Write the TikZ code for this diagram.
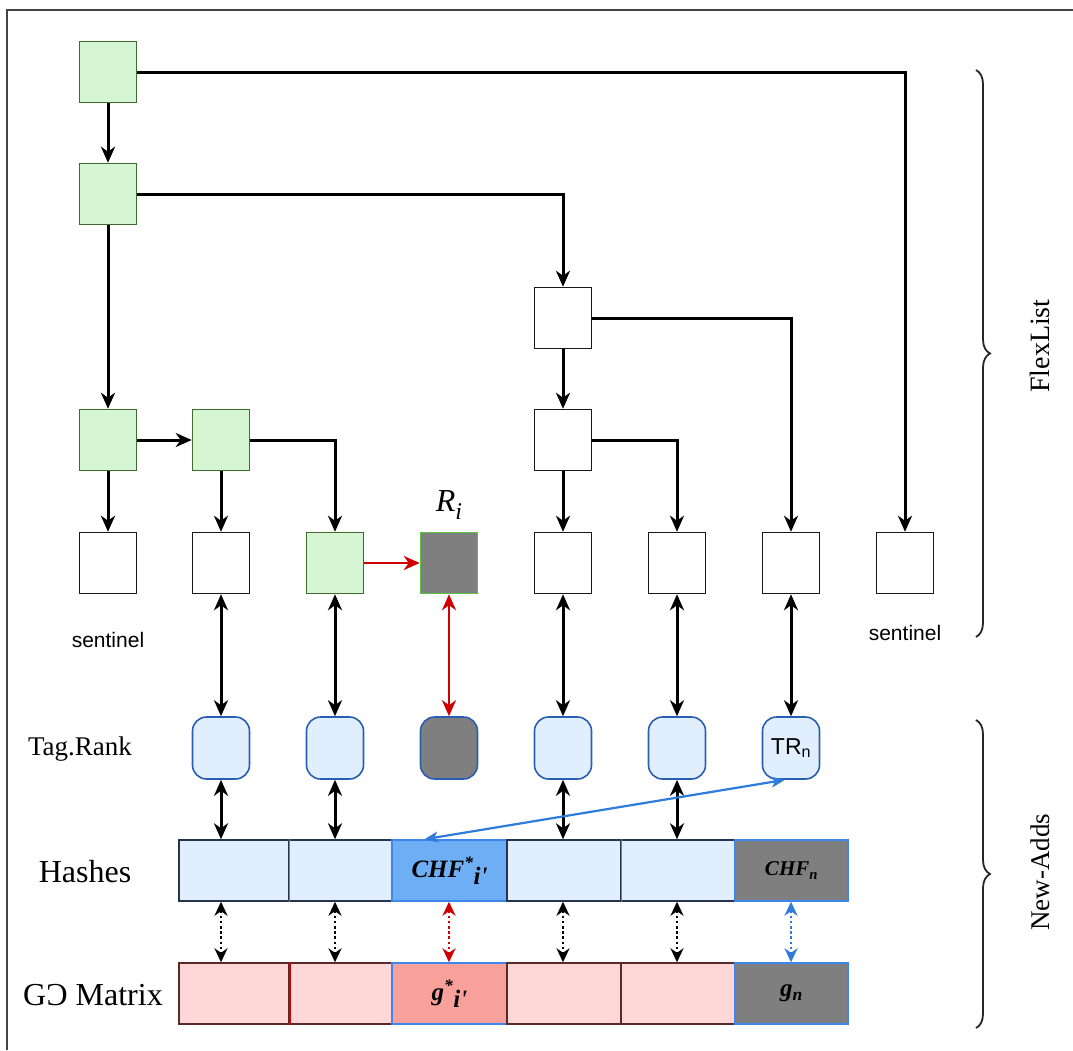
\documentclass[tikz,border=0pt]{standalone}
\usepackage{fontspec}
\setmainfont{Liberation Serif}
\newfontfamily\arialfont{Liberation Sans}
\usetikzlibrary{arrows.meta,decorations.pathreplacing,calc}

\definecolor{greenfill}{HTML}{D6F6D3}
\definecolor{greenline}{HTML}{3F6A32}
\definecolor{brightgreen}{HTML}{5CC43A}
\definecolor{darkbox}{HTML}{7F7F7F}
\definecolor{tagfill}{HTML}{E1EEFD}
\definecolor{tagline}{HTML}{2A5FB0}
\definecolor{hashline}{HTML}{26344E}
\definecolor{cellblue}{HTML}{3D86EE}
\definecolor{hashsel}{HTML}{6EAEF5}
\definecolor{pinkfill}{HTML}{FFD7D6}
\definecolor{pinkline}{HTML}{5A2A2A}
\definecolor{salmon}{HTML}{F8A19B}
\definecolor{arrred}{HTML}{D00000}
\definecolor{arrblue}{HTML}{2F7BDB}
\definecolor{framegray}{HTML}{444444}

\tikzset{
  bigtip/.tip={Stealth[length=16pt,width=14pt,inset=5pt]},
  smalltip/.tip={Stealth[length=14pt,width=13pt,inset=4.5pt]},
  bluetip/.tip={Stealth[length=14pt,width=11pt,inset=4pt]},
  listbox/.style={draw=greenline, line width=1.5pt, minimum width=57pt, minimum height=61pt, inner sep=0pt},
  greenbox/.style={listbox, fill=greenfill},
  whitebox/.style={listbox, draw=black!90, fill=white},
  tagbox/.style={draw=tagline, line width=1.6pt, fill=tagfill, rounded corners=14pt,
                 minimum width=57pt, minimum height=62pt, inner sep=0pt},
  cell/.style={draw=hashline, line width=1.4pt, minimum height=61pt, inner sep=0pt},
  arr/.style={-bigtip, line width=3pt, black},
  darr/.style={bigtip-bigtip, line width=3pt, black},
  dotarr/.style={smalltip-smalltip, line width=2.8pt, dash pattern=on 2.6pt off 2.6pt},
  lbl/.style={font=\fontsize{32}{34}\selectfont, inner sep=0pt},
  cellfont/.style={font=\fontsize{25}{27}\selectfont\bfseries\itshape, inner sep=0pt},
  bracelbl/.style={rotate=90, inner sep=0pt},
  brc/.style={decorate, decoration={brace, amplitude=14pt, aspect=0.5}, line width=1.8pt, black!85},
}

\begin{document}
\begin{tikzpicture}[x=1pt, y=-1pt]
\useasboundingbox (0,0) rectangle (1073,1050);

% outer frame (top and left edges)
\draw[framegray, line width=2.2pt] (1073,10) -- (7,10) -- (7,1050);

% ---- FlexList nodes ----
\node[greenbox] (t1) at (108,72) {};
\node[greenbox] (t2) at (108,194) {};
\node[whitebox] (m1) at (563,318) {};
\node[greenbox] (l0) at (108,440) {};
\node[greenbox] (l1) at (221,440) {};
\node[whitebox] (l4) at (563,440) {};

\node[whitebox] (b0) at (108,563) {};
\node[whitebox] (b1) at (221,563) {};
\node[greenbox] (b2) at (335,563) {};
\node[listbox, draw=brightgreen, fill=darkbox] (b3) at (449,563) {};
\node[whitebox] (b4) at (563,563) {};
\node[whitebox] (b5) at (677,563) {};
\node[whitebox] (b6) at (791,563) {};
\node[whitebox] (b7) at (905,563) {};

\node[inner sep=0pt, font=\fontsize{32}{34}\selectfont\itshape] (ri) at (449,505)
  {R\raisebox{-0.25em}{\fontsize{24}{26}\selectfont i}};

\node[inner sep=0pt, font=\arialfont\fontsize{21}{23}\selectfont] (s0) at (108,640) {sentinel};
\node[inner sep=0pt, font=\arialfont\fontsize{21}{23}\selectfont] (s7) at (905,633) {sentinel};

% FlexList links
\draw[arr] (t1.south) -- (t2.north);
\draw[arr] (t1.east) -| (b7.north);
\draw[arr] (t2.south) -- (l0.north);
\draw[arr] (t2.east) -| (m1.north);
\draw[arr] (m1.south) -- (l4.north);
\draw[arr] (m1.east) -| (b6.north);
\draw[arr] (l4.south) -- (b4.north);
\draw[arr] (l4.east) -| (b5.north);
\draw[arr] (l0.south) -- (b0.north);
\draw[arr] (l0.east) -- (l1.west);
\draw[arr] (l1.south) -- (b1.north);
\draw[arr] (l1.east) -| (b2.north);
\draw[-bigtip, line width=2.8pt, arrred] (b2.east) -- (b3.west);

% ---- Tag.Rank row ----
\node[lbl, font=\fontsize{27}{29}\selectfont] (taglbl) at (80,749) {Tag.Rank};
\node[tagbox] (r1) at (221,748) {};
\node[tagbox] (r2) at (335,748) {};
\node[tagbox, fill=darkbox] (r3) at (449,748) {};
\node[tagbox] (r4) at (563,748) {};
\node[tagbox] (r5) at (677,748) {};
\node[tagbox, font=\arialfont\fontsize{23}{25}\selectfont] (r6) at (791,748) {TR\textsubscript{n}};

\draw[darr] (b1.south) -- (r1.north);
\draw[darr] (b2.south) -- (r2.north);
\draw[darr, arrred, line width=2.8pt] (b3.south) -- (r3.north);
\draw[darr] (b4.south) -- (r4.north);
\draw[darr] (b5.south) -- (r5.north);
\draw[darr] (b6.south) -- (r6.north);

% ---- Hashes row ----
\node[lbl] (hlbl) at (85,872) {Hashes};
\node[cell, fill=tagfill, minimum width=110pt] (h1) at (234,870.5) {};
\node[cell, fill=tagfill, minimum width=103pt] (h2) at (340.5,870.5) {};
\node[cell, fill=hashsel, draw=cellblue, minimum width=115pt, cellfont] (h3) at (449.5,870.5)
  {CHF\textsuperscript{*}\raisebox{-0.3em}{i\textquotesingle}};
\node[cell, fill=tagfill, minimum width=114pt] (h4) at (564,870.5) {};
\node[cell, fill=tagfill, minimum width=114pt] (h5) at (678,870.5) {};
\node[cell, fill=darkbox, draw=cellblue, minimum width=113pt, font=\fontsize{21}{23}\selectfont\bfseries\itshape] (h6) at (791.5,870.5)
  {\raisebox{-0.1em}{CHF\textsubscript{n}}};
\draw[cellblue, line width=1.4pt] (h1.north east) -- (h1.south east);
\draw[cellblue, line width=1.4pt] (h4.north east) -- (h4.south east);

\draw[darr] (r1.south) -- (r1.south |- h1.north);
\draw[darr] (r2.south) -- (r2.south |- h2.north);
\draw[darr] (r4.south) -- (r4.south |- h4.north);
\draw[darr] (r5.south) -- (r5.south |- h5.north);
\draw[bluetip-bluetip, line width=2.2pt, arrblue]
  ([xshift=33pt]h3.north west) -- ([xshift=-6pt]r6.south);

% ---- G matrix row ----
\node[lbl] (glbl) at (93,995) {GƆ Matrix};
\node[cell, fill=pinkfill, draw=pinkline, minimum width=110pt] (g1) at (234,993.5) {};
\node[cell, fill=pinkfill, draw=pinkline, minimum width=103pt] (g2) at (340.5,993.5) {};
\node[cell, fill=salmon, draw=cellblue, minimum width=115pt, cellfont] (g3) at (449.5,993.5)
  {g\textsuperscript{*}\raisebox{-0.3em}{i\textquotesingle}};
\node[cell, fill=pinkfill, draw=pinkline, minimum width=114pt] (g4) at (564,993.5) {};
\node[cell, fill=pinkfill, draw=pinkline, minimum width=114pt] (g5) at (678,993.5) {};
\node[cell, fill=darkbox, draw=cellblue, minimum width=113pt, cellfont] (g6) at (791.5,993.5)
  {g\textsubscript{n}};
\draw[arrred, line width=1.6pt] (g1.north east) -- (g1.south east);

\draw[dotarr, black] (b1 |- h1.south) -- (b1 |- g1.north);
\draw[dotarr, black] (b2 |- h2.south) -- (b2 |- g2.north);
\draw[dotarr, arrred] (b3 |- h3.south) -- (b3 |- g3.north);
\draw[dotarr, black] (b4 |- h4.south) -- (b4 |- g4.north);
\draw[dotarr, black] (b5 |- h5.south) -- (b5 |- g5.north);
\draw[dotarr, arrblue] (b6 |- h6.south) -- (b6 |- g6.north);

% ---- side braces ----
\coordinate (fA) at (976,70);
\coordinate (fB) at (976,637);
\coordinate (nA) at (976,720);
\coordinate (nB) at (976,1028);
\draw[brc] (fA) -- (fB);
\draw[brc] (nA) -- (nB);
\node[bracelbl, font=\fontsize{28}{30}\selectfont] (flex) at (1040,346) {FlexList};
\node[bracelbl, font=\fontsize{27}{29}\selectfont] (newadds) at (1040,872) {New-Adds};
\end{tikzpicture}
\end{document}
